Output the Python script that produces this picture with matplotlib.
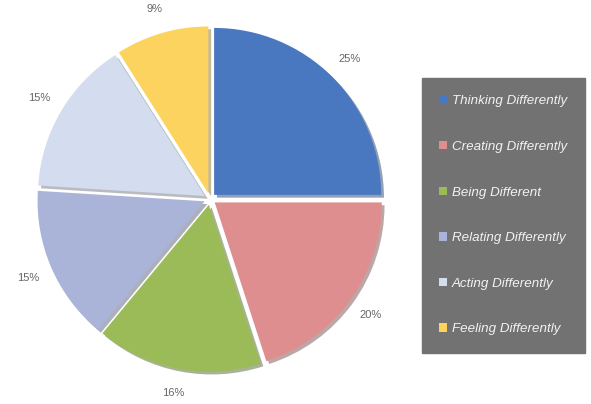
import matplotlib.pyplot as plt

labels = ["Thinking Differently", "Creating Differently", "Being Different",
          "Relating Differently", "Acting Differently", "Feeling Differently"]
values = [25, 20, 16, 15, 15, 9]
colors = ["#4a78c0", "#de8e8e", "#9bbb59", "#a9b4d8", "#d4dcef", "#fdd35f"]

fig = plt.figure(figsize=(5.91, 4.04), dpi=100)
ax = fig.add_axes([0, 0, 1, 1])

wedges, texts, autotexts = ax.pie(
    values, colors=colors, startangle=90, counterclock=False,
    explode=[0.035] * len(values), autopct="%d%%", pctdistance=1.15,
    shadow={"ox": 0.012, "oy": -0.012, "shade": 0.45},
    wedgeprops={"linewidth": 0},
    textprops={"fontsize": 8, "color": "#666666", "family": "Liberation Sans"},
)
ax.set_xlim(-1.257, 2.281)
ax.set_ylim(-1.228, 1.192)
ax.set_aspect("auto")
ax.axis("off")

leg = fig.legend(
    wedges, labels, loc="upper left",
    bbox_to_anchor=(422 / 591, 1 - 78 / 404),
    frameon=True, fancybox=False, facecolor="#727272", edgecolor="#727272",
    framealpha=1, handlelength=0.6, handleheight=0.6, handletextpad=0.35,
    labelspacing=2.52, borderpad=1.3, borderaxespad=0,
    prop={"family": "Liberation Sans", "style": "italic", "size": 9.6},
)
for t in leg.get_texts():
    t.set_color("#f2f2f2")

fig.savefig("out.png", dpi=100, facecolor="white")
